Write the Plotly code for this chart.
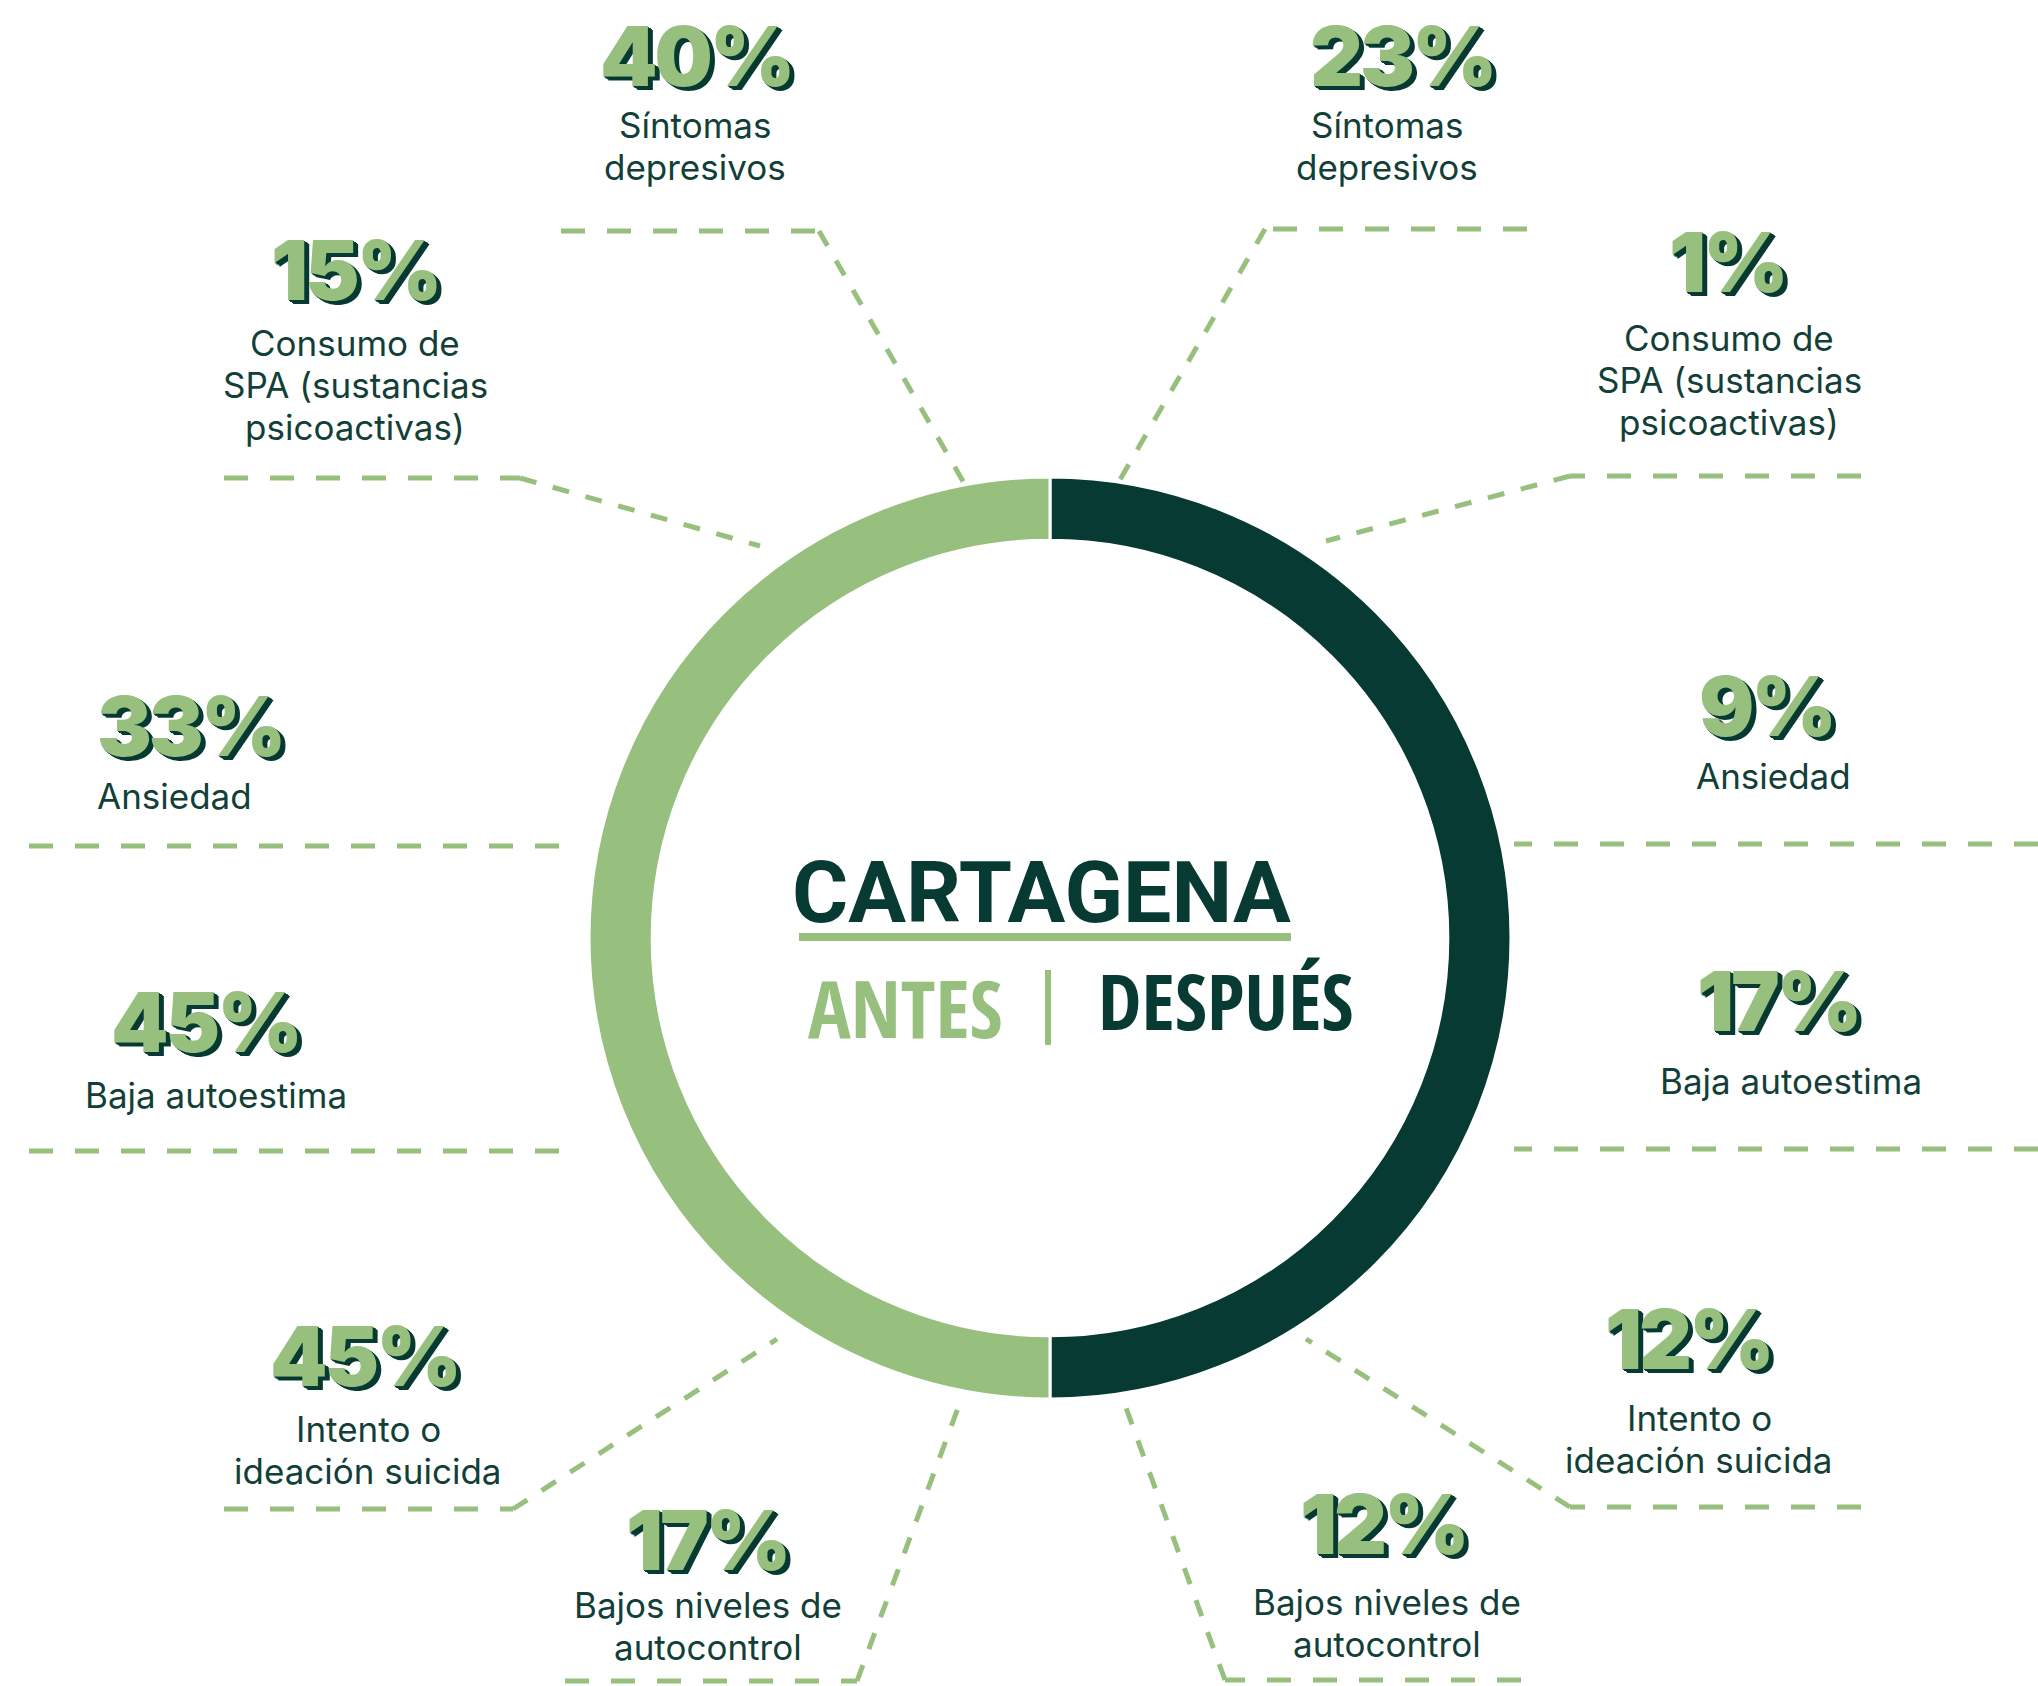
import plotly.graph_objects as go

# ---------------- data ----------------
categories = ["Síntomas<br>depresivos",
              "Consumo de<br>SPA (sustancias<br>psicoactivas)",
              "Ansiedad",
              "Baja autoestima",
              "Intento o<br>ideación suicida",
              "Bajos niveles de<br>autocontrol"]
antes = [40, 15, 33, 45, 45, 17]      # %
despues = [23, 1, 9, 17, 12, 12]      # %
groups = ["DESPUÉS", "ANTES"]
group_share = [1, 1]                  # ring halves
city = "CARTAGENA"

# ---------------- layout (pixel positions) ----------------
W, H = 2038, 1686
LIGHT = "#97C07E"
DARK = "#063A32"
TXT = "#123F38"

left_pct_xy = [(696, 56), (355, 270), (190, 726), (205, 1022), (364, 1356), (707, 1540)]
left_lbl_xy = [(695, 146), (355, 385), (174, 796), (216, 1095), (368, 1450), (708, 1626)]
right_pct_xy = [(1402, 56), (1727, 262), (1766, 706), (1778, 1001), (1688, 1339), (1383, 1524)]
right_lbl_xy = [(1387, 146), (1729, 380), (1773, 776), (1791, 1081), (1699, 1439), (1387, 1623)]
LINE_GAP = 42

connectors = [
    [(561, 231), (819, 231), (964, 483)],
    [(224, 478), (520, 478), (760, 546)],
    [(29, 846), (569, 846)],
    [(29, 1151), (569, 1151)],
    [(224, 1509), (513, 1509), (777, 1339)],
    [(565, 1681), (857, 1681), (958, 1408)],
    [(1527, 229), (1265, 229), (1118, 483)],
    [(1861, 476), (1570, 476), (1326, 541)],
    [(2038, 844), (1514, 844)],
    [(2038, 1149), (1514, 1149)],
    [(1861, 1507), (1570, 1507), (1306, 1339)],
    [(1521, 1680), (1225, 1680), (1125, 1405)],
]

CX, CY, R = 1050, 938, 461
HOLE = 0.863

fig = go.Figure()

for path in connectors:
    for (x0, y0), (x1, y1) in zip(path[:-1], path[1:]):
        horiz = abs(y1 - y0) < 1
        fig.add_trace(go.Scatter(
            x=[x0, x1], y=[y0, y1], mode="lines",
            line=dict(color=LIGHT, width=5, dash="24px,22px" if horiz else "17px,17px"),
            hoverinfo="skip", showlegend=False))

fig.add_trace(go.Pie(
    values=group_share, labels=groups, sort=False, direction="clockwise", rotation=0,
    hole=HOLE, textinfo="none", hoverinfo="label",
    marker=dict(colors=[DARK, LIGHT], line=dict(color="white", width=3)),
    domain=dict(x=[(CX - R) / W, (CX + R) / W], y=[1 - (CY + R) / H, 1 - (CY - R) / H]),
    showlegend=False))

annotations = []
SHADOW = ", ".join(f"{i}px {i * 0.8:.1f}px 0 {DARK}" for i in range(1, 6))

def pct_annot(text, x, y):
    annotations.append(dict(x=x, y=y, xref="x", yref="y",
                            text=f'<span style="letter-spacing:-3px">{text}</span>',
                            showarrow=False, xanchor="center", yanchor="middle",
                            font=dict(family="Inter, Lato, sans-serif", size=82, color=LIGHT,
                                      weight=900, shadow=SHADOW)))

def lbl_annot(text, x, y):
    lines = text.split("<br>")
    n = len(lines)
    for k, ln in enumerate(lines):
        yy = y + (k - (n - 1) / 2) * LINE_GAP
        annotations.append(dict(x=x, y=yy, xref="x", yref="y", text=ln, showarrow=False,
                                xanchor="center", yanchor="middle",
                                font=dict(family="Inter, Open Sans, sans-serif", size=35, color=TXT)))

for v, (x, y) in zip(antes, left_pct_xy):
    pct_annot(f"{v}%", x, y)
for v, (x, y) in zip(despues, right_pct_xy):
    pct_annot(f"{v}%", x, y)
for c, (x, y) in zip(categories, left_lbl_xy):
    lbl_annot(c, x, y)
for c, (x, y) in zip(categories, right_lbl_xy):
    lbl_annot(c, x, y)

COND = "Open Sans Condensed, Roboto Condensed, DejaVu Sans Condensed, sans-serif"
annotations.append(dict(x=1041, y=892, xref="x", yref="y", text=f"<b>{city}</b>", showarrow=False,
                        xanchor="center", yanchor="middle",
                        font=dict(family="Roboto, sans-serif", size=86, color=DARK)))
annotations.append(dict(x=905, y=1006, xref="x", yref="y", text=f"<b>{groups[1]}</b>", showarrow=False,
                        xanchor="center", yanchor="middle",
                        font=dict(family=COND, size=80, color=LIGHT)))
annotations.append(dict(x=1226, y=1000, xref="x", yref="y", text=f"<b>{groups[0]}</b>", showarrow=False,
                        xanchor="center", yanchor="middle",
                        font=dict(family=COND, size=78, color=DARK)))

shapes = [
    dict(type="line", xref="x", yref="y", x0=799, x1=1291, y0=937, y1=937, line=dict(color=LIGHT, width=8)),
    dict(type="line", xref="x", yref="y", x0=1048, x1=1048, y0=970, y1=1045, line=dict(color=LIGHT, width=6)),
]

fig.update_layout(
    width=W, height=H, autosize=False,
    margin=dict(l=0, r=0, t=0, b=0),
    paper_bgcolor="white", plot_bgcolor="white",
    xaxis=dict(range=[0, W], visible=False, fixedrange=True, domain=[0, 1]),
    yaxis=dict(range=[H, 0], visible=False, fixedrange=True, domain=[0, 1]),
    annotations=annotations, shapes=shapes, showlegend=False,
)

fig.write_html("out.html", config={"displayModeBar": False},
               post_script="document.body.style.margin='0';document.body.style.overflow='hidden';")
